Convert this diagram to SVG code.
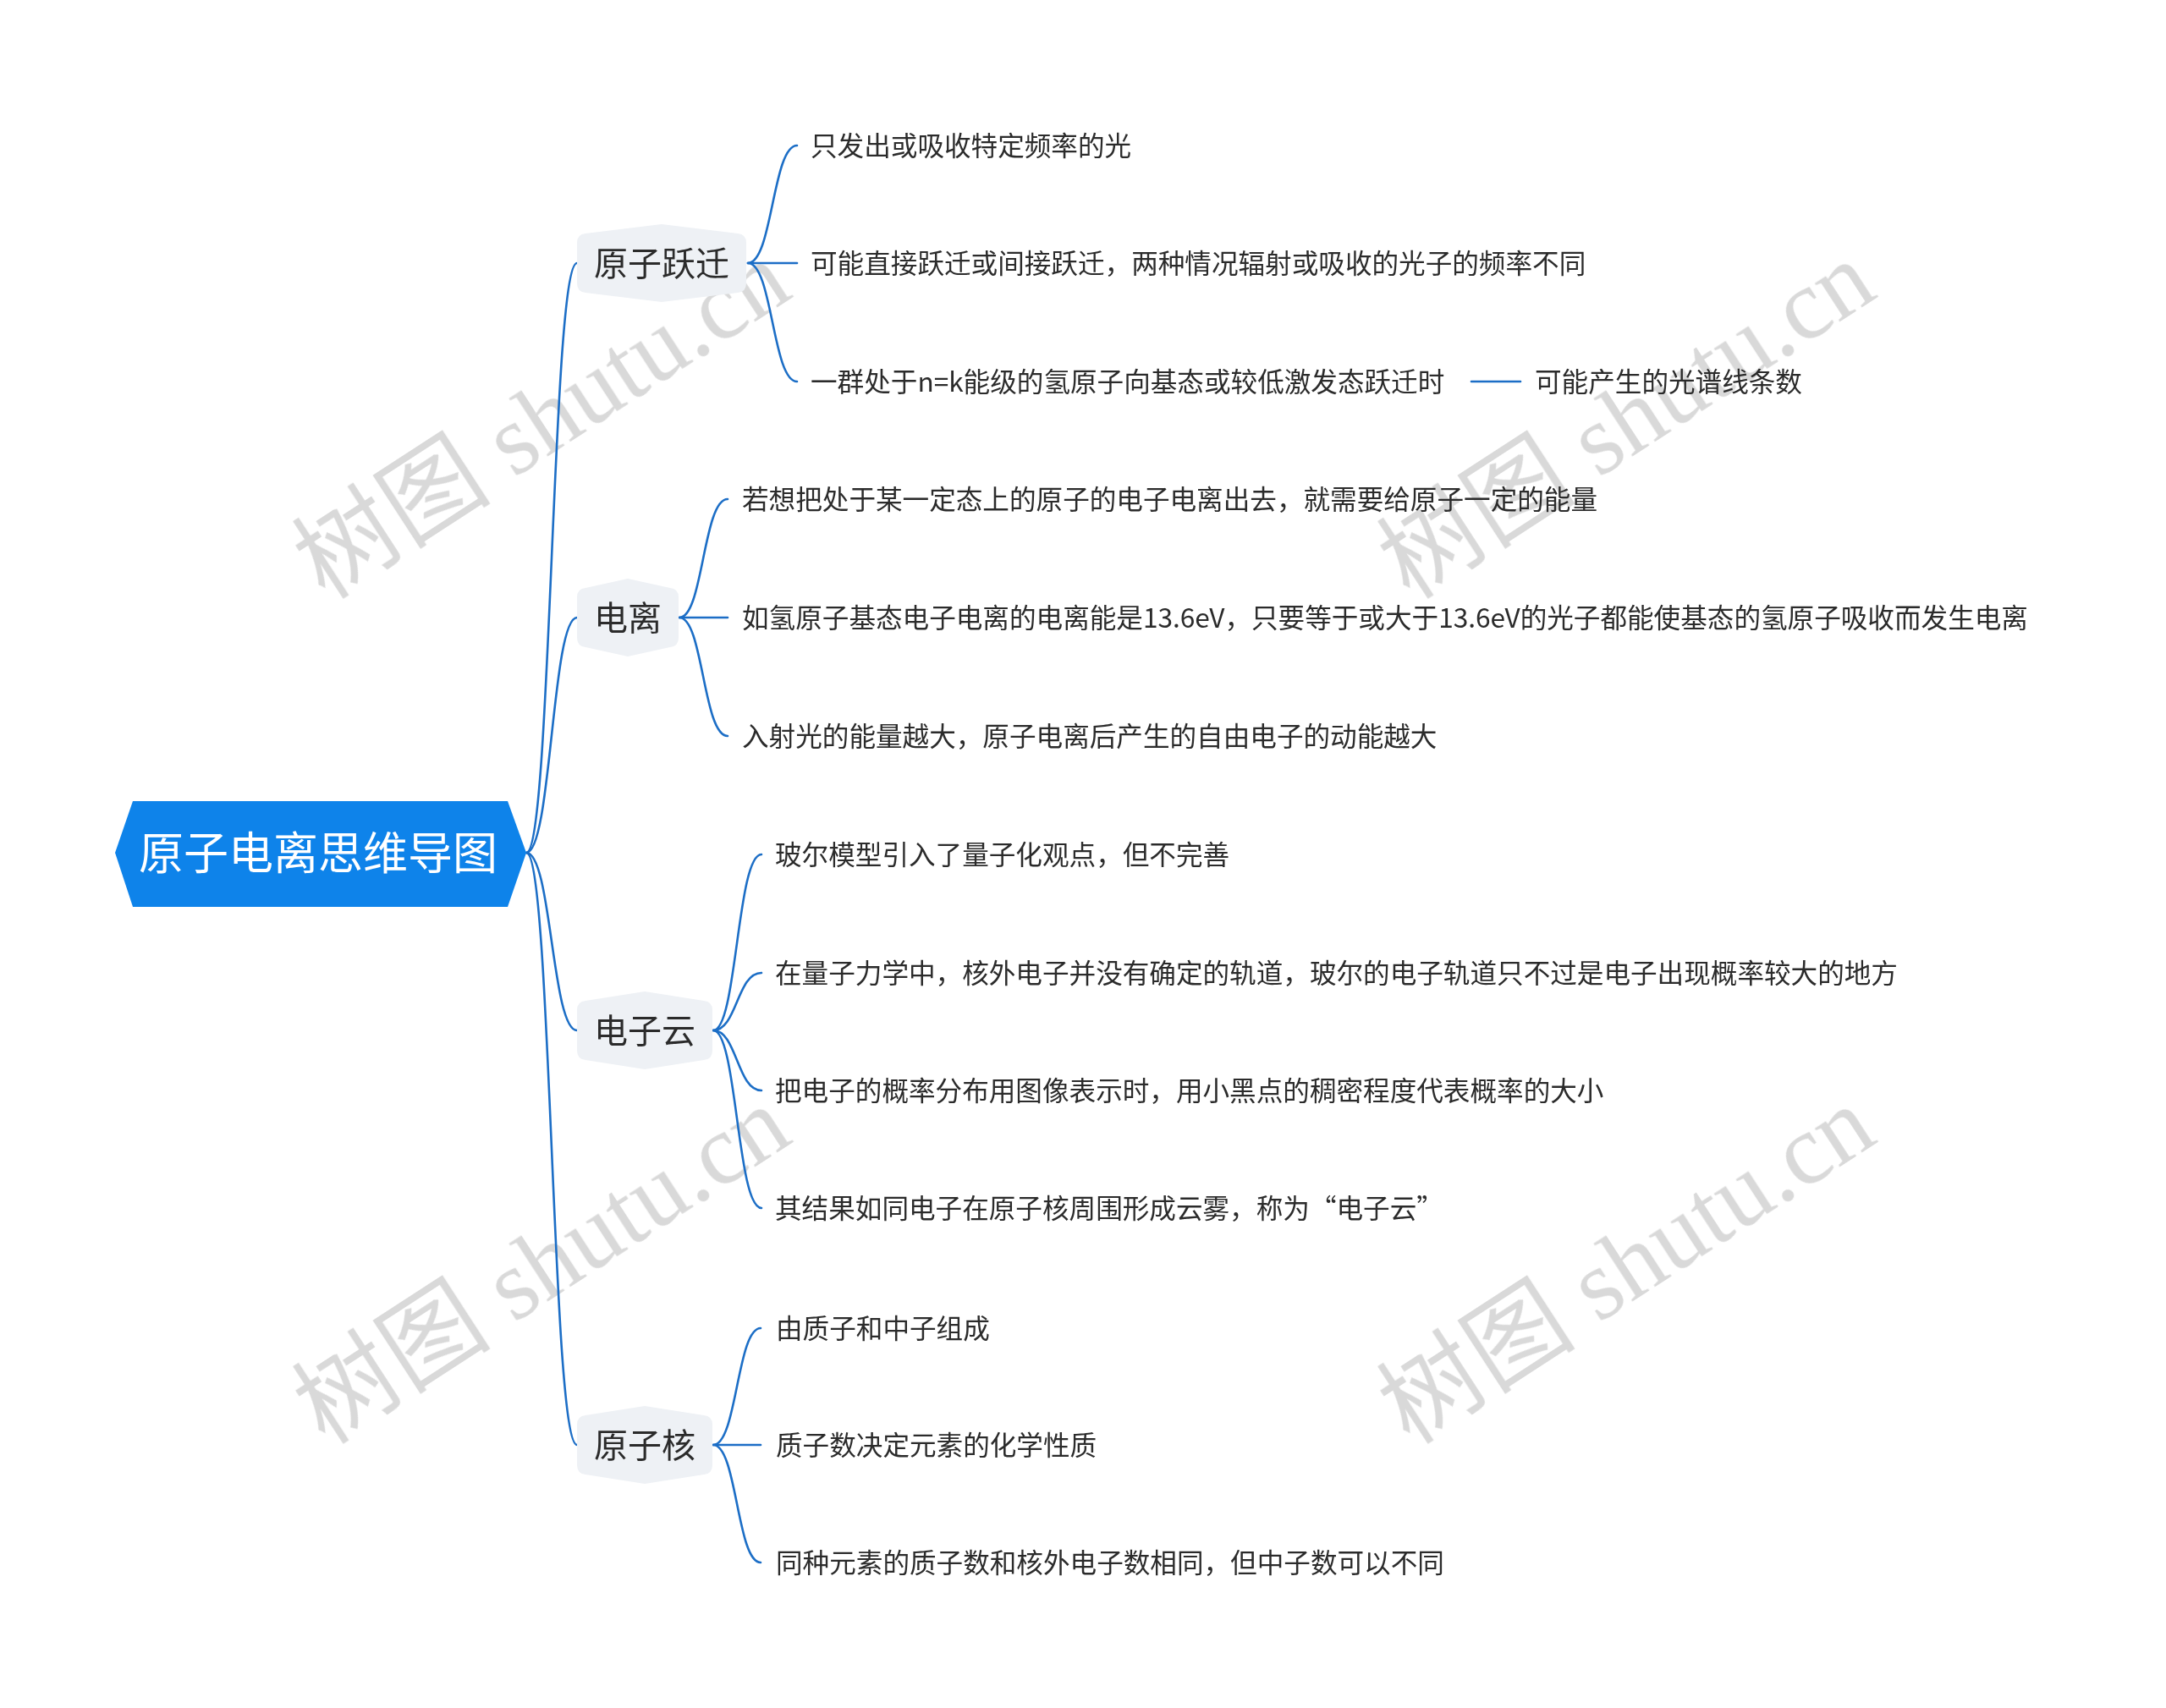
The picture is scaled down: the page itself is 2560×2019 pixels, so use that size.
<svg xmlns="http://www.w3.org/2000/svg" width="2560" height="2019" viewBox="0 0 2560 2019">
<style>
.bg{fill:#ffffff}
.root{fill:#0e83ea}
.rt{font-family:"Noto Sans CJK SC","Noto Sans",sans-serif;font-size:53px;fill:#ffffff;text-anchor:middle}
.br{fill:#eef1f5}
.bt{font-family:"Noto Sans CJK SC","Noto Sans",sans-serif;font-size:40px;fill:#2b2b2b;text-anchor:middle}
.ct{font-family:"Noto Sans CJK SC","Noto Sans",sans-serif;font-size:31.6px;fill:#2b2b2b}
.ln{fill:none;stroke:#1c6ec6;stroke-width:2.6;stroke-linecap:round}
.wm{font-family:"Liberation Serif","Noto Sans CJK SC",serif;font-size:118px;fill:#d2d2d2;text-anchor:middle}
</style>
<rect class="bg" x="0" y="0" width="2560" height="2019"/>

<g id="watermarks" opacity="0.85">
<text class="wm" transform="translate(662,530) rotate(-33)">树图 shutu.cn</text>
<text class="wm" transform="translate(1944,530) rotate(-33)">树图 shutu.cn</text>
<text class="wm" transform="translate(662,1529) rotate(-33)">树图 shutu.cn</text>
<text class="wm" transform="translate(1944,1529) rotate(-33)">树图 shutu.cn</text>
</g>

<g id="connectors">
<path class="ln" d="M622,1008 C652,1008 652,311 682,311"/>
<path class="ln" d="M622,1008 C652,1008 652,730 682,730"/>
<path class="ln" d="M622,1008 C652,1008 652,1218 682,1218"/>
<path class="ln" d="M622,1008 C652,1008 652,1708 682,1708"/>

<path class="ln" d="M884,311 C913,311 913,172 942,172"/>
<path class="ln" d="M884,311 L942,311"/>
<path class="ln" d="M884,311 C913,311 913,451 942,451"/>
<path class="ln" d="M1739,451 L1797,451"/>

<path class="ln" d="M803,730 C831,730 831,590 860,590"/>
<path class="ln" d="M803,730 L860,730"/>
<path class="ln" d="M803,730 C831,730 831,870 860,870"/>

<path class="ln" d="M843,1218 C871,1218 871,1010 900,1010"/>
<path class="ln" d="M843,1218 C871,1218 871,1150 900,1150"/>
<path class="ln" d="M843,1218 C871,1218 871,1289 900,1289"/>
<path class="ln" d="M843,1218 C871,1218 871,1428 900,1428"/>

<path class="ln" d="M843,1708 C871,1708 871,1570 899,1570"/>
<path class="ln" d="M843,1708 L899,1708"/>
<path class="ln" d="M843,1708 C871,1708 871,1847 899,1847"/>
</g>

<g id="root">
<polygon class="root" points="136,1008 157,947 600,947 622,1008 600,1072 157,1072"/>
<text class="rt" x="376" y="1028">原子电离思维导图</text>
</g>

<g id="n1">
<path class="br" d="M682,287 Q682,277 692,276 L782,265 L872,276 Q882,277 882,287 L882,335 Q882,345 872,346 L782,357 L692,346 Q682,345 682,335 Z"/>
<text class="bt" x="782" y="326">原子跃迁</text>
</g>
<g id="n2">
<path class="br" d="M682,706 Q682,696 692,695 L742,684 L792,695 Q802,696 802,706 L802,754 Q802,764 792,765 L742,776 L692,765 Q682,764 682,754 Z"/>
<text class="bt" x="742" y="745">电离</text>
</g>
<g id="n3">
<path class="br" d="M682,1194 Q682,1184 692,1183 L762,1172 L832,1183 Q842,1184 842,1194 L842,1242 Q842,1252 832,1253 L762,1264 L692,1253 Q682,1252 682,1242 Z"/>
<text class="bt" x="762" y="1233">电子云</text>
</g>
<g id="n4">
<path class="br" d="M682,1684 Q682,1674 692,1673 L762,1662 L832,1673 Q842,1674 842,1684 L842,1732 Q842,1742 832,1743 L762,1754 L692,1743 Q682,1742 682,1732 Z"/>
<text class="bt" x="762" y="1723">原子核</text>
</g>

<g id="n1-1"><text class="ct" x="958" y="184">只发出或吸收特定频率的光</text></g>
<g id="n1-2"><text class="ct" x="958" y="323">可能直接跃迁或间接跃迁，两种情况辐射或吸收的光子的频率不同</text></g>
<g id="n1-3"><text class="ct" x="958" y="463">一群处于n=k能级的氢原子向基态或较低激发态跃迁时</text></g>
<g id="n1-3-1"><text class="ct" x="1814" y="463">可能产生的光谱线条数</text></g>

<g id="n2-1"><text class="ct" x="877" y="602">若想把处于某一定态上的原子的电子电离出去，就需要给原子一定的能量</text></g>
<g id="n2-2"><text class="ct" x="877" y="742">如氢原子基态电子电离的电离能是13.6eV，只要等于或大于13.6eV的光子都能使基态的氢原子吸收而发生电离</text></g>
<g id="n2-3"><text class="ct" x="877" y="882">入射光的能量越大，原子电离后产生的自由电子的动能越大</text></g>

<g id="n3-1"><text class="ct" x="916" y="1022">玻尔模型引入了量子化观点，但不完善</text></g>
<g id="n3-2"><text class="ct" x="916" y="1162">在量子力学中，核外电子并没有确定的轨道，玻尔的电子轨道只不过是电子出现概率较大的地方</text></g>
<g id="n3-3"><text class="ct" x="916" y="1301">把电子的概率分布用图像表示时，用小黑点的稠密程度代表概率的大小</text></g>
<g id="n3-4"><text class="ct" x="916" y="1440">其结果如同电子在原子核周围形成云雾，称为“电子云”</text></g>

<g id="n4-1"><text class="ct" x="917" y="1582">由质子和中子组成</text></g>
<g id="n4-2"><text class="ct" x="917" y="1720">质子数决定元素的化学性质</text></g>
<g id="n4-3"><text class="ct" x="917" y="1859">同种元素的质子数和核外电子数相同，但中子数可以不同</text></g>
</svg>
